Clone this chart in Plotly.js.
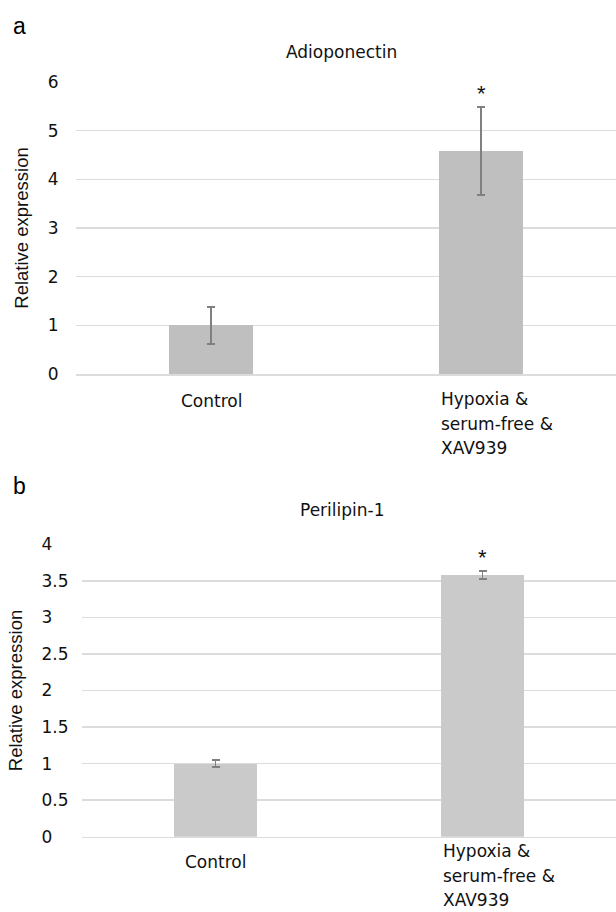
<!DOCTYPE html>
<html>
<head>
<meta charset="utf-8">
<script src="https://cdn.plot.ly/plotly-3.0.1.min.js"></script>
<style>
  html, body { margin: 0; padding: 0; background: #fff; }
  #chart { width: 616px; height: 912px; }
</style>
</head>
<body>
<div id="chart"></div>
<script>
// ---- data ----
const categories = ['Control', 'Hypoxia & serum-free & XAV939'];
const categoryLabelLines = [['Control'], ['Hypoxia &', 'serum-free &', 'XAV939']];
const adiponectinValues = [1.00, 4.58];
const adiponectinErrors = [0.38, 0.90];
const perilipinValues = [1.00, 3.58];
const perilipinErrors = [0.045, 0.05];
const significance = ['', '*'];
const adiponectinTicks = [0, 1, 2, 3, 4, 5, 6];
const perilipinTicks = [0, 0.5, 1, 1.5, 2, 2.5, 3, 3.5, 4];
const panelTitles = ['Adioponectin', 'Perilipin-1'];
const panelLetters = ['a', 'b'];
const yTitle = 'Relative expression';

// ---- styles ----
const FONT = 'DejaVu Sans, Verdana, sans-serif';
const FONT_TITLE_Y = 'Liberation Sans, Arial, sans-serif';
const W = 616, H = 912;
const pad = '\u2008\u2007';
function tickText(v) {
  const s = String(v);
  return s.indexOf('.') < 0 ? s + pad : s;
}

const traces = [
  {
    type: 'bar', x: categories, y: adiponectinValues, xaxis: 'x', yaxis: 'y',
    width: 0.313,
    marker: { color: '#bfbfbf' },
    error_y: { type: 'data', array: adiponectinErrors, visible: true, color: '#808080', thickness: 1.8, width: 4 },
    hoverinfo: 'skip'
  },
  {
    type: 'bar', x: categories, y: perilipinValues, xaxis: 'x2', yaxis: 'y2',
    width: 0.311,
    marker: { color: '#cacaca' },
    error_y: { type: 'data', array: perilipinErrors, visible: true, color: '#808080', thickness: 1.8, width: 4 },
    hoverinfo: 'skip'
  }
];

const gridColor = '#dcdcdc';
function yAxis(domain, range, ticks, texts, anchor, ticklen) {
  return {
    domain: domain, range: range, anchor: anchor,
    tickvals: ticks, ticktext: texts,
    showgrid: true, gridcolor: gridColor, gridwidth: 1.5,
    zeroline: false, showline: false,
    ticks: 'outside', ticklen: ticklen, tickcolor: 'rgba(0,0,0,0)',
    tickfont: { family: FONT, size: 17, color: '#111' },
    title: { text: yTitle, font: { family: FONT_TITLE_Y, size: 18.5, color: '#111' }, standoff: 14 },
    fixedrange: true
  };
}
function xAxis(domain, anchor) {
  return {
    domain: domain, anchor: anchor, type: 'category',
    range: [-0.5, 1.5],
    showticklabels: false, showgrid: false, zeroline: false,
    showline: true, linecolor: gridColor, linewidth: 1.5,
    fixedrange: true
  };
}

const layout = {
  width: W, height: H,
  margin: { l: 0, r: 0, t: 0, b: 0 },
  paper_bgcolor: '#fff', plot_bgcolor: '#fff',
  showlegend: false,
  bargap: 0,
  xaxis: xAxis([76 / W, 1], 'y'),
  yaxis: yAxis([1 - 374 / H, 1 - 82 / H], [0, 6], adiponectinTicks, adiponectinTicks.map(String), 'x', 13),
  xaxis2: xAxis([82 / W, 1], 'y2'),
  yaxis2: yAxis([1 - 836.7 / H, 1 - 544.3 / H], [0, 4], perilipinTicks, perilipinTicks.map(tickText), 'x2', 9),
  annotations: []
};

const ann = layout.annotations;
// panel letters and titles
ann.push({ xref: 'paper', yref: 'paper', x: 20 / W, y: 1 - 26 / H, text: panelLetters[0], showarrow: false,
  font: { family: FONT_TITLE_Y, size: 23, color: '#000' }, xanchor: 'center', yanchor: 'middle' });
ann.push({ xref: 'paper', yref: 'paper', x: 20 / W, y: 1 - 486 / H, text: panelLetters[1], showarrow: false,
  font: { family: FONT_TITLE_Y, size: 23, color: '#000' }, xanchor: 'center', yanchor: 'middle' });
ann.push({ xref: 'paper', yref: 'paper', x: 341 / W, y: 1 - 52 / H, text: panelTitles[0], showarrow: false,
  font: { family: FONT, size: 17, color: '#111' }, xanchor: 'center', yanchor: 'middle' });
ann.push({ xref: 'paper', yref: 'paper', x: 343 / W, y: 1 - 510 / H, text: panelTitles[1], showarrow: false,
  font: { family: FONT, size: 17, color: '#111' }, xanchor: 'center', yanchor: 'middle' });

// category labels (one annotation per line for Excel-like line spacing)
const LINE = 24.5;
function catLabels(xref, yref, barWidth, firstShift) {
  categoryLabelLines.forEach(function (lines, i) {
    const centered = lines.length === 1;
    lines.forEach(function (txt, k) {
      ann.push({
        xref: xref, yref: yref, x: centered ? i : i - barWidth / 2, y: 0,
        text: txt, showarrow: false,
        xanchor: centered ? 'center' : 'left', yanchor: 'top',
        yshift: firstShift[i] - k * LINE,
        font: { family: FONT, size: 17, color: '#111' }
      });
    });
  });
}
catLabels('x', 'y', 0.313, [-15, -13]);
catLabels('x2', 'y2', 0.311, [-13, -2.5]);

// significance marks
function sigMarks(xref, yref, values, errors, shift) {
  significance.forEach(function (s, i) {
    if (!s) return;
    ann.push({ xref: xref, yref: yref, x: i, y: values[i] + errors[i], text: s, showarrow: false,
      xanchor: 'center', yanchor: 'bottom', yshift: shift,
      font: { family: FONT_TITLE_Y, size: 22, color: '#111' } });
  });
}
sigMarks('x', 'y', adiponectinValues, adiponectinErrors, -1);
sigMarks('x2', 'y2', perilipinValues, perilipinErrors, -1);

Plotly.newPlot('chart', traces, layout, { staticPlot: true, displayModeBar: false });
</script>
</body>
</html>
